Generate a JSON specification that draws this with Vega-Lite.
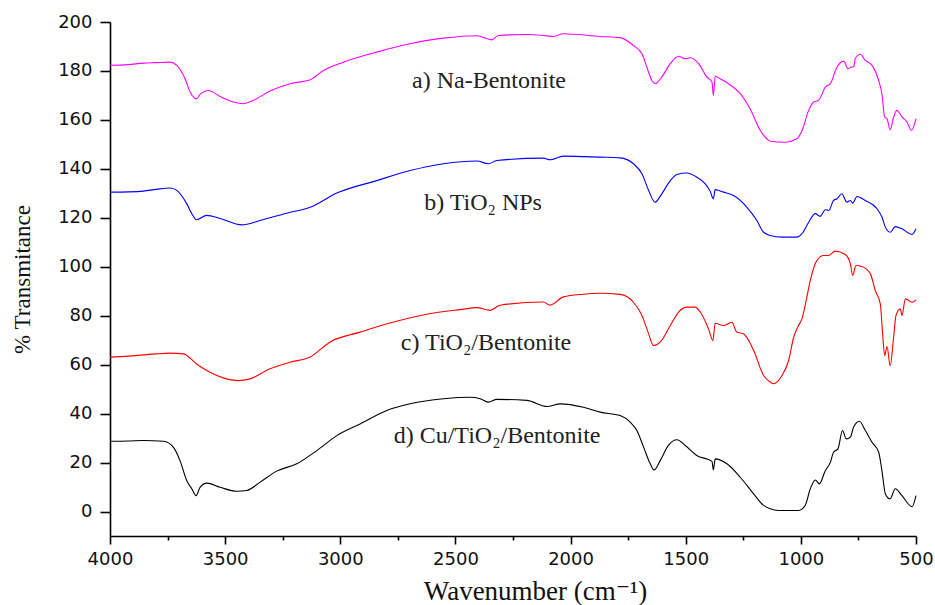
{
  "$schema": "https://vega.github.io/schema/vega-lite/v6.json",
  "autosize": {"type": "none"},
  "padding": {"left": 110, "top": 22, "right": 19, "bottom": 69},
  "width": 806,
  "height": 514,
  "background": "white",
  "config": {"view": {"stroke": null}},
  "layer": [
    {
      "data": {"values": [
        {"s":"a","w":4000,"t":182.3},{"s":"a","w":3920,"t":182.6},{"s":"a","w":3855,"t":183.2},{"s":"a","w":3800,"t":183.4},{"s":"a","w":3739,"t":183.6},{"s":"a","w":3710,"t":182.3},{"s":"a","w":3674,"t":176.8},{"s":"a","w":3652,"t":171.4},{"s":"a","w":3626,"t":168.6},{"s":"a","w":3609,"t":170.4},{"s":"a","w":3573,"t":172.0},{"s":"a","w":3522,"t":169.6},{"s":"a","w":3464,"t":167.3},{"s":"a","w":3421,"t":166.6},{"s":"a","w":3377,"t":168.0},{"s":"a","w":3305,"t":171.8},{"s":"a","w":3218,"t":174.8},{"s":"a","w":3131,"t":176.4},{"s":"a","w":3073,"t":180.2},{"s":"a","w":2986,"t":183.6},{"s":"a","w":2842,"t":187.7},{"s":"a","w":2697,"t":191.1},{"s":"a","w":2552,"t":193.4},{"s":"a","w":2407,"t":194.4},{"s":"a","w":2342,"t":192.7},{"s":"a","w":2313,"t":194.5},{"s":"a","w":2190,"t":194.9},{"s":"a","w":2118,"t":194.5},{"s":"a","w":2074,"t":194.1},{"s":"a","w":2031,"t":195.2},{"s":"a","w":1871,"t":194.1},{"s":"a","w":1785,"t":193.6},{"s":"a","w":1727,"t":190.4},{"s":"a","w":1690,"t":187.0},{"s":"a","w":1669,"t":181.6},{"s":"a","w":1647,"t":176.1},{"s":"a","w":1633,"t":174.8},{"s":"a","w":1604,"t":177.5},{"s":"a","w":1567,"t":183.0},{"s":"a","w":1531,"t":186.0},{"s":"a","w":1502,"t":185.0},{"s":"a","w":1480,"t":185.4},{"s":"a","w":1444,"t":183.0},{"s":"a","w":1408,"t":177.5},{"s":"a","w":1386,"t":175.5},{"s":"a","w":1380,"t":170.0},{"s":"a","w":1372,"t":177.8},{"s":"a","w":1350,"t":176.8},{"s":"a","w":1314,"t":174.8},{"s":"a","w":1263,"t":170.7},{"s":"a","w":1220,"t":164.5},{"s":"a","w":1176,"t":155.7},{"s":"a","w":1147,"t":152.2},{"s":"a","w":1133,"t":151.3},{"s":"a","w":1068,"t":150.9},{"s":"a","w":1017,"t":152.3},{"s":"a","w":995,"t":155.7},{"s":"a","w":966,"t":163.9},{"s":"a","w":945,"t":167.3},{"s":"a","w":923,"t":168.0},{"s":"a","w":894,"t":173.4},{"s":"a","w":872,"t":174.8},{"s":"a","w":843,"t":181.6},{"s":"a","w":814,"t":184.0},{"s":"a","w":795,"t":180.9},{"s":"a","w":781,"t":181.6},{"s":"a","w":771,"t":181.6},{"s":"a","w":764,"t":185.0},{"s":"a","w":742,"t":186.8},{"s":"a","w":720,"t":184.3},{"s":"a","w":691,"t":182.3},{"s":"a","w":662,"t":176.1},{"s":"a","w":648,"t":170.7},{"s":"a","w":636,"t":161.2},{"s":"a","w":626,"t":160.5},{"s":"a","w":612,"t":156.0},{"s":"a","w":597,"t":161.2},{"s":"a","w":583,"t":163.9},{"s":"a","w":561,"t":161.2},{"s":"a","w":539,"t":159.1},{"s":"a","w":520,"t":155.7},{"s":"a","w":500,"t":160.5},
        {"s":"b","w":4000,"t":130.5},{"s":"b","w":3920,"t":130.6},{"s":"b","w":3855,"t":130.9},{"s":"b","w":3800,"t":131.6},{"s":"b","w":3739,"t":132.2},{"s":"b","w":3710,"t":131.2},{"s":"b","w":3667,"t":125.8},{"s":"b","w":3645,"t":121.7},{"s":"b","w":3624,"t":119.2},{"s":"b","w":3580,"t":121.0},{"s":"b","w":3522,"t":119.7},{"s":"b","w":3428,"t":117.1},{"s":"b","w":3348,"t":118.9},{"s":"b","w":3233,"t":121.9},{"s":"b","w":3131,"t":124.3},{"s":"b","w":3015,"t":130.1},{"s":"b","w":2842,"t":135.2},{"s":"b","w":2697,"t":139.3},{"s":"b","w":2552,"t":142.1},{"s":"b","w":2407,"t":143.2},{"s":"b","w":2357,"t":142.1},{"s":"b","w":2320,"t":143.4},{"s":"b","w":2118,"t":144.4},{"s":"b","w":2089,"t":143.7},{"s":"b","w":2031,"t":145.2},{"s":"b","w":1871,"t":144.8},{"s":"b","w":1785,"t":144.5},{"s":"b","w":1727,"t":142.1},{"s":"b","w":1690,"t":138.0},{"s":"b","w":1661,"t":131.2},{"s":"b","w":1633,"t":126.4},{"s":"b","w":1604,"t":129.8},{"s":"b","w":1567,"t":135.2},{"s":"b","w":1538,"t":137.7},{"s":"b","w":1495,"t":138.3},{"s":"b","w":1452,"t":136.6},{"s":"b","w":1415,"t":133.9},{"s":"b","w":1394,"t":130.9},{"s":"b","w":1380,"t":127.8},{"s":"b","w":1372,"t":131.5},{"s":"b","w":1336,"t":130.5},{"s":"b","w":1292,"t":129.1},{"s":"b","w":1234,"t":124.3},{"s":"b","w":1191,"t":118.9},{"s":"b","w":1162,"t":114.1},{"s":"b","w":1133,"t":112.8},{"s":"b","w":1082,"t":112.1},{"s":"b","w":1017,"t":112.1},{"s":"b","w":995,"t":113.5},{"s":"b","w":966,"t":118.2},{"s":"b","w":937,"t":121.7},{"s":"b","w":916,"t":120.6},{"s":"b","w":894,"t":123.3},{"s":"b","w":879,"t":123.0},{"s":"b","w":858,"t":127.1},{"s":"b","w":843,"t":127.8},{"s":"b","w":822,"t":129.8},{"s":"b","w":800,"t":126.4},{"s":"b","w":785,"t":127.1},{"s":"b","w":775,"t":126.0},{"s":"b","w":756,"t":128.7},{"s":"b","w":720,"t":127.1},{"s":"b","w":669,"t":123.7},{"s":"b","w":648,"t":120.3},{"s":"b","w":633,"t":116.2},{"s":"b","w":612,"t":114.1},{"s":"b","w":590,"t":116.4},{"s":"b","w":561,"t":115.5},{"s":"b","w":517,"t":113.2},{"s":"b","w":500,"t":115.5},
        {"s":"c","w":4000,"t":63.1},{"s":"c","w":3920,"t":63.5},{"s":"c","w":3855,"t":64.0},{"s":"c","w":3800,"t":64.4},{"s":"c","w":3739,"t":64.7},{"s":"c","w":3681,"t":64.4},{"s":"c","w":3624,"t":60.3},{"s":"c","w":3566,"t":56.9},{"s":"c","w":3508,"t":54.6},{"s":"c","w":3443,"t":53.5},{"s":"c","w":3392,"t":54.2},{"s":"c","w":3305,"t":58.3},{"s":"c","w":3218,"t":61.0},{"s":"c","w":3131,"t":63.1},{"s":"c","w":3044,"t":69.3},{"s":"c","w":2914,"t":73.3},{"s":"c","w":2769,"t":77.4},{"s":"c","w":2624,"t":80.6},{"s":"c","w":2480,"t":82.5},{"s":"c","w":2407,"t":83.3},{"s":"c","w":2349,"t":82.2},{"s":"c","w":2306,"t":84.3},{"s":"c","w":2118,"t":85.6},{"s":"c","w":2089,"t":84.3},{"s":"c","w":2031,"t":87.7},{"s":"c","w":1944,"t":88.8},{"s":"c","w":1871,"t":89.2},{"s":"c","w":1785,"t":88.7},{"s":"c","w":1727,"t":85.5},{"s":"c","w":1690,"t":80.1},{"s":"c","w":1661,"t":72.6},{"s":"c","w":1640,"t":67.8},{"s":"c","w":1611,"t":69.2},{"s":"c","w":1567,"t":76.0},{"s":"c","w":1531,"t":81.5},{"s":"c","w":1495,"t":83.5},{"s":"c","w":1459,"t":83.5},{"s":"c","w":1437,"t":81.5},{"s":"c","w":1401,"t":74.6},{"s":"c","w":1382,"t":69.9},{"s":"c","w":1372,"t":76.9},{"s":"c","w":1336,"t":76.0},{"s":"c","w":1300,"t":77.3},{"s":"c","w":1278,"t":73.3},{"s":"c","w":1249,"t":72.6},{"s":"c","w":1205,"t":65.8},{"s":"c","w":1162,"t":55.6},{"s":"c","w":1133,"t":52.9},{"s":"c","w":1118,"t":52.2},{"s":"c","w":1082,"t":55.6},{"s":"c","w":1053,"t":61.7},{"s":"c","w":1031,"t":71.3},{"s":"c","w":1010,"t":76.0},{"s":"c","w":995,"t":78.8},{"s":"c","w":974,"t":87.6},{"s":"c","w":959,"t":94.4},{"s":"c","w":930,"t":102.6},{"s":"c","w":901,"t":104.6},{"s":"c","w":880,"t":104.6},{"s":"c","w":851,"t":106.4},{"s":"c","w":807,"t":105.0},{"s":"c","w":785,"t":101.2},{"s":"c","w":775,"t":96.4},{"s":"c","w":761,"t":100.5},{"s":"c","w":735,"t":100.1},{"s":"c","w":698,"t":97.1},{"s":"c","w":677,"t":90.3},{"s":"c","w":655,"t":84.8},{"s":"c","w":645,"t":72.6},{"s":"c","w":636,"t":63.7},{"s":"c","w":626,"t":67.4},{"s":"c","w":612,"t":59.6},{"s":"c","w":597,"t":71.3},{"s":"c","w":587,"t":80.1},{"s":"c","w":568,"t":82.8},{"s":"c","w":561,"t":80.1},{"s":"c","w":546,"t":86.9},{"s":"c","w":517,"t":85.5},{"s":"c","w":500,"t":86.5},
        {"s":"d","w":4000,"t":28.7},{"s":"d","w":3920,"t":28.8},{"s":"d","w":3855,"t":29.0},{"s":"d","w":3768,"t":28.7},{"s":"d","w":3725,"t":26.3},{"s":"d","w":3696,"t":20.8},{"s":"d","w":3667,"t":12.7},{"s":"d","w":3645,"t":9.3},{"s":"d","w":3626,"t":6.5},{"s":"d","w":3609,"t":9.9},{"s":"d","w":3580,"t":11.6},{"s":"d","w":3522,"t":9.9},{"s":"d","w":3450,"t":8.3},{"s":"d","w":3406,"t":8.6},{"s":"d","w":3348,"t":12.0},{"s":"d","w":3276,"t":16.5},{"s":"d","w":3189,"t":19.5},{"s":"d","w":3102,"t":24.9},{"s":"d","w":3015,"t":31.0},{"s":"d","w":2914,"t":35.8},{"s":"d","w":2798,"t":41.3},{"s":"d","w":2697,"t":44.0},{"s":"d","w":2552,"t":46.1},{"s":"d","w":2436,"t":46.7},{"s":"d","w":2393,"t":46.1},{"s":"d","w":2357,"t":44.7},{"s":"d","w":2320,"t":45.8},{"s":"d","w":2190,"t":45.4},{"s":"d","w":2103,"t":42.9},{"s":"d","w":2045,"t":44.0},{"s":"d","w":1944,"t":42.6},{"s":"d","w":1871,"t":40.6},{"s":"d","w":1785,"t":39.2},{"s":"d","w":1741,"t":36.5},{"s":"d","w":1712,"t":33.1},{"s":"d","w":1683,"t":26.3},{"s":"d","w":1654,"t":19.5},{"s":"d","w":1637,"t":17.0},{"s":"d","w":1611,"t":20.8},{"s":"d","w":1575,"t":27.0},{"s":"d","w":1538,"t":29.3},{"s":"d","w":1502,"t":27.0},{"s":"d","w":1452,"t":22.9},{"s":"d","w":1386,"t":20.5},{"s":"d","w":1380,"t":17.0},{"s":"d","w":1372,"t":21.5},{"s":"d","w":1321,"t":19.5},{"s":"d","w":1263,"t":14.0},{"s":"d","w":1205,"t":7.2},{"s":"d","w":1162,"t":2.5},{"s":"d","w":1133,"t":1.1},{"s":"d","w":1097,"t":0.4},{"s":"d","w":1010,"t":0.4},{"s":"d","w":981,"t":2.5},{"s":"d","w":959,"t":9.3},{"s":"d","w":937,"t":12.9},{"s":"d","w":920,"t":11.3},{"s":"d","w":894,"t":16.7},{"s":"d","w":872,"t":20.1},{"s":"d","w":858,"t":24.2},{"s":"d","w":839,"t":25.6},{"s":"d","w":819,"t":33.1},{"s":"d","w":803,"t":29.7},{"s":"d","w":785,"t":30.4},{"s":"d","w":771,"t":34.5},{"s":"d","w":746,"t":36.9},{"s":"d","w":720,"t":33.1},{"s":"d","w":691,"t":28.3},{"s":"d","w":662,"t":24.2},{"s":"d","w":648,"t":16.7},{"s":"d","w":633,"t":7.2},{"s":"d","w":612,"t":5.2},{"s":"d","w":590,"t":9.3},{"s":"d","w":561,"t":6.5},{"s":"d","w":517,"t":2.0},{"s":"d","w":500,"t":6.5}
      ]},
      "mark": {"type": "line", "strokeWidth": 1.1, "interpolate": "monotone"},
      "encoding": {
        "x": {
          "field": "w", "type": "quantitative",
          "scale": {"domain": [500, 4000], "reverse": true, "nice": false, "zero": false},
          "axis": {
            "values": [4000,3750,3500,3250,3000,2750,2500,2250,2000,1750,1500,1250,1000,750,500],
            "labelExpr": "datum.value % 500 === 0 ? datum.label : ''",
            "format": "d",
            "tickSize": {"condition": {"test": "datum.value % 500 === 0", "value": 8}, "value": 4},
            "grid": false,
            "domainColor": "#000", "domainWidth": 1.6,
            "tickColor": "#000", "tickWidth": 1.6,
            "labelFont": "DejaVu Sans", "labelFontSize": 18, "labelColor": "#111",
            "labelPadding": 6, "labelFlush": false, "labelOverlap": false,
            "title": "Wavenumber (cm⁻¹)",
            "titleFont": "Liberation Serif, DejaVu Serif, serif", "titleFontSize": 27, "titleFontWeight": "normal", "titleColor": "#111",
            "titleX": 425, "titleY": 63, "titleAlign": "center", "titleBaseline": "alphabetic"
          }
        },
        "y": {
          "field": "t", "type": "quantitative",
          "scale": {"domain": [-10, 200], "nice": false, "zero": false},
          "axis": {
            "values": [0,10,20,30,40,50,60,70,80,90,100,110,120,130,140,150,160,170,180,190,200],
            "labelExpr": "datum.value % 20 === 0 ? datum.label : ''",
            "tickSize": {"condition": {"test": "datum.value % 20 === 0", "value": 10}, "value": 4},
            "grid": false,
            "domainColor": "#000", "domainWidth": 1.6,
            "tickColor": "#000", "tickWidth": 1.6,
            "labelFont": "DejaVu Sans", "labelFontSize": 18, "labelColor": "#111",
            "labelPadding": 8, "labelOverlap": false,
            "title": "% Transmitance",
            "titleFont": "Liberation Serif", "titleFontSize": 23, "titleFontWeight": "normal", "titleColor": "#111",
            "titleX": -88, "titleY": 257, "titleAngle": 270, "titleAlign": "center", "titleBaseline": "middle"
          }
        },
        "color": {
          "field": "s", "type": "nominal",
          "scale": {"domain": ["a","b","c","d"], "range": ["#ff00ff","#0000ff","#ff0000","#000000"]},
          "legend": null
        },
        "detail": {"field": "s"}
      }
    },
    {
      "data": {"values": [
        {"label": "a) Na-Bentonite", "w": 2354, "t": 176},
        {"label": "b) TiO₂ NPs", "w": 2380, "t": 126},
        {"label": "c) TiO₂/Bentonite", "w": 2367, "t": 69},
        {"label": "d) Cu/TiO₂/Bentonite", "w": 2319, "t": 31}
      ]},
      "mark": {"type": "text", "font": "Liberation Serif", "fontSize": 24, "color": "#222", "align": "center", "baseline": "middle"},
      "encoding": {
        "x": {"field": "w", "type": "quantitative"},
        "y": {"field": "t", "type": "quantitative"},
        "text": {"field": "label"}
      }
    }
  ]
}
